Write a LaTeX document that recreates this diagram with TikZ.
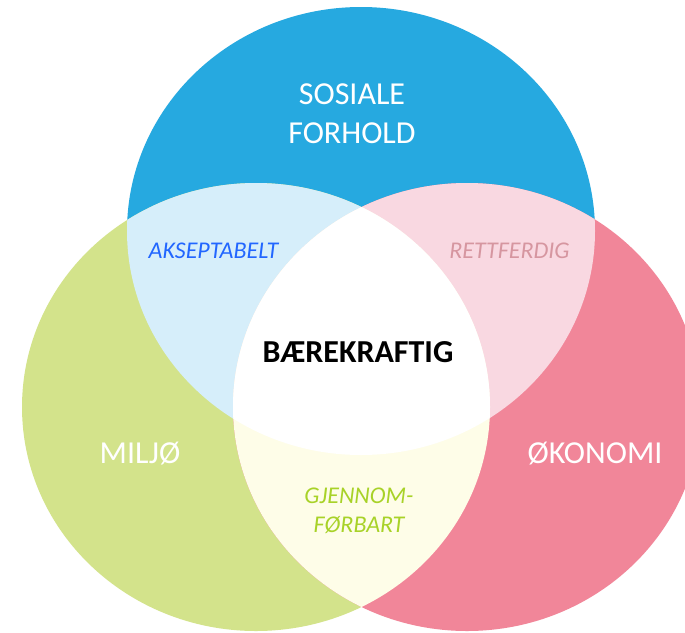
\documentclass[tikz,border=0pt]{standalone}
\usepackage{fontspec}
\setmainfont{Carlito}
\definecolor{cblue}{RGB}{38,169,224}
\definecolor{cgreen}{RGB}{211,227,139}
\definecolor{cred}{RGB}{241,134,153}
\definecolor{clblue}{RGB}{214,238,250}
\definecolor{cpink}{RGB}{249,216,225}
\definecolor{cyellow}{RGB}{254,253,232}
\definecolor{tblue}{RGB}{34,102,255}
\definecolor{tpink}{RGB}{214,150,160}
\definecolor{tgreen}{RGB}{168,210,40}
\begin{document}
\begin{tikzpicture}[x=1pt,y=-1pt,
  bigl/.style={text=white,font=\fontsize{32}{38}\selectfont,anchor=base,inner sep=0pt},
  smalll/.style={font=\fontsize{24}{29}\selectfont\itshape,anchor=base,inner sep=0pt},
  centerl/.style={text=black,font=\fontsize{32}{38}\selectfont\bfseries,anchor=base,inner sep=0pt}]
\useasboundingbox (0,0) rectangle (685,632);
\clip (0,0) rectangle (685,632);
\def\rx{234}\def\ry{224}
\def\pblue{(361,231) ellipse [x radius=\rx, y radius=\ry]}
\def\pgreen{(256,407) ellipse [x radius=\rx, y radius=\ry]}
\def\pred{(467,407) ellipse [x radius=\rx, y radius=\ry]}
\fill[white] (0,0) rectangle (685,632);
\fill[cblue] \pblue;
\fill[cgreen] \pgreen;
\fill[cred] \pred;
\begin{scope}\clip \pblue; \fill[clblue] \pgreen; \end{scope}
\begin{scope}\clip \pblue; \fill[cpink] \pred; \end{scope}
\begin{scope}\clip \pgreen; \fill[cyellow] \pred; \end{scope}
\begin{scope}\clip \pblue; \clip \pgreen; \fill[white] \pred; \end{scope}
\node[bigl] (sosiale) at (352,104) {SOSIALE};
\node[bigl] (forhold) at (352,143.5) {FORHOLD};
\node[bigl] (miljo) at (140,463.5) {MILJØ};
\node[bigl] (okonomi) at (595,463.5) {ØKONOMI};
\node[centerl] (baere) at (358,362) {BÆREKRAFTIG};
\node[smalll,text=tblue] (aksept) at (213.5,258) {AKSEPTABELT};
\node[smalll,text=tpink] (rett) at (509.5,258) {RETTFERDIG};
\node[smalll,text=tgreen] (gjennom) at (359,503.5) {GJENNOM-};
\node[smalll,text=tgreen] (forbart) at (359,532.5) {FØRBART};
\end{tikzpicture}
\end{document}
